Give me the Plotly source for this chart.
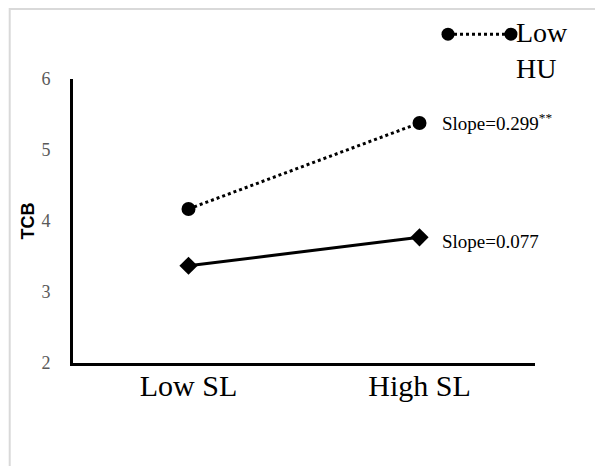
import plotly.graph_objects as go

categories = ["Low SL", "High SL"]
low_hu = [4.17, 5.38]
high_hu = [3.37, 3.77]
series_names = ["Low HU", "High HU"]
slope_labels = ["Slope=0.299<sup>**</sup>", "Slope=0.077"]
y_ticks = [2, 3, 4, 5, 6]

TNR = "Liberation Serif, Times New Roman, serif"

fig = go.Figure()
fig.add_trace(go.Scatter(
    x=categories, y=low_hu, mode="lines+markers", name=series_names[0],
    line=dict(color="black", width=3, dash="dot"),
    marker=dict(symbol="circle", size=14, color="black"),
    showlegend=False))
fig.add_trace(go.Scatter(
    x=categories, y=high_hu, mode="lines+markers", name=series_names[1],
    line=dict(color="black", width=3),
    marker=dict(symbol="diamond", size=14, color="black"),
    showlegend=False))

# slope labels
for yv, txt, ys in [(low_hu[1], slope_labels[0], 1), (high_hu[1], slope_labels[1], -4)]:
    fig.add_annotation(x=categories[1], y=yv, text=txt, showarrow=False,
                       xanchor="left", yanchor="middle", xshift=20, yshift=ys,
                       font=dict(family=TNR, size=19, color="black"))

# legend (manual, partly clipped as in the reference)
fig.add_shape(type="line", xref="paper", yref="paper",
              x0=0.8117, x1=0.948, y0=1.158, y1=1.158,
              line=dict(color="black", width=3, dash="dot"))
for px in [0.8117, 0.948]:
    fig.add_shape(type="circle", xref="paper", yref="paper",
                  xsizemode="pixel", ysizemode="pixel",
                  xanchor=px, yanchor=1.158,
                  x0=-6.5, x1=6.5, y0=-6.5, y1=6.5,
                  fillcolor="black", line=dict(color="black", width=0))
fig.add_annotation(xref="paper", yref="paper", x=0.9545, y=1.225,
                   text="Low<br>HU", showarrow=False, xanchor="left", yanchor="top",
                   align="left", font=dict(family=TNR, size=28, color="black"))

# outer chart border
fig.add_shape(type="rect", xref="paper", yref="paper",
              x0=-0.137, x1=1.3, y0=-0.5, y1=1.2465,
              line=dict(color="#d9d9d9", width=2), layer="below")

fig.update_layout(
    width=603, height=466,
    margin=dict(l=65, r=76, t=71, b=111),
    paper_bgcolor="white", plot_bgcolor="white",
    xaxis=dict(type="category", range=[-0.5, 1.5], showgrid=False,
               showline=True, linecolor="black", linewidth=3,
               ticks="", tickfont=dict(family=TNR, size=30, color="black"),
               ticklabelstandoff=-6, zeroline=False),
    yaxis=dict(range=[2, 6], tickvals=y_ticks, showgrid=False,
               showline=True, linecolor="black", linewidth=3,
               ticks="", tickfont=dict(family=TNR, size=18, color="#595959"),
               ticklabelstandoff=16, zeroline=False,
               title=dict(text="<b>TCB</b>", standoff=3,
                          font=dict(family="Liberation Sans, Arial, sans-serif",
                                    size=18, color="black"))),
)

fig.write_html("out.html")
